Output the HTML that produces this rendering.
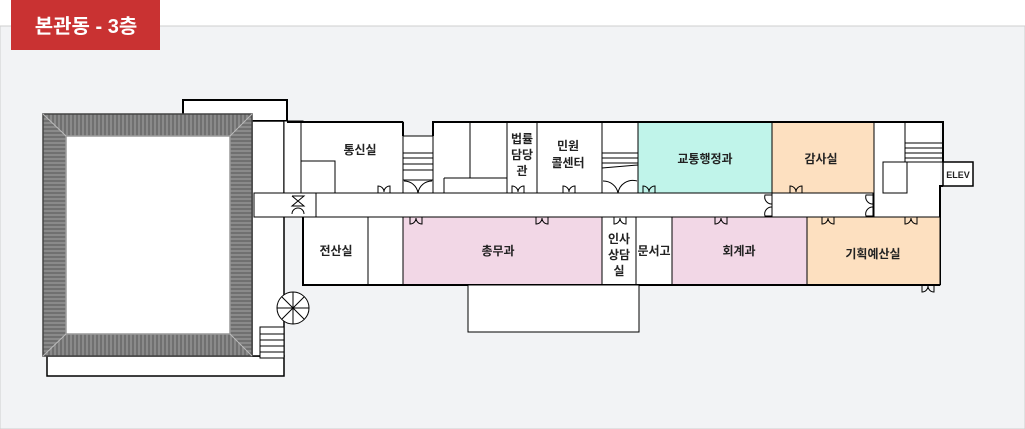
<!DOCTYPE html>
<html><head><meta charset="utf-8"><style>
html,body{margin:0;padding:0;background:#fff;}
svg{display:block;}
text{font-family:"Liberation Sans","Noto Sans CJK KR",sans-serif;font-size:12px;fill:#222;text-anchor:middle;font-weight:bold;}
</style></head><body>
<svg width="1025" height="429" viewBox="0 0 1025 429" xmlns="http://www.w3.org/2000/svg">
<defs>
<pattern id="h" width="4" height="4" patternUnits="userSpaceOnUse"><rect width="4" height="4" fill="#8a8a8a"/><line x1="1" y1="0" x2="1" y2="4" stroke="#555" stroke-width="1"/></pattern>
<pattern id="hv" width="4" height="4" patternUnits="userSpaceOnUse"><rect width="4" height="4" fill="#8a8a8a"/><line x1="0" y1="1" x2="4" y2="1" stroke="#555" stroke-width="1"/></pattern>
</defs>
<rect x="0" y="26" width="1025" height="403" fill="#f2f3f5" stroke="#cfcfcf"/>
<rect x="11" y="0" width="149" height="50" fill="#c93232"/>
<text x="86" y="33" style="font-size:20px;font-weight:bold;fill:#fff">본관동 - 3층</text>

<rect x="183" y="100" width="104" height="21" fill="#fff" stroke="#000" stroke-width="2"/>
<rect x="47" y="356" width="237" height="20" fill="#fff" stroke="#000" stroke-width="1.5"/>
<rect x="252" y="121" width="32" height="235" fill="#fff" stroke="#000" stroke-width="1.5"/>
<polygon points="43,114 252,114 230,136 66,136" fill="url(#h)"/>
<polygon points="43,356 252,356 230,334 66,334" fill="url(#h)"/>
<polygon points="43,114 66,136 66,334 43,356" fill="url(#hv)"/>
<polygon points="252,114 230,136 230,334 252,356" fill="url(#hv)"/>
<rect x="43" y="114" width="209" height="242" fill="none" stroke="#444" stroke-width="1.5"/>
<rect x="66" y="136" width="164" height="198" fill="#fff" stroke="#999" stroke-width="1.5"/>
<line x1="43" y1="114" x2="66" y2="136" stroke="#bbb"/><line x1="252" y1="114" x2="230" y2="136" stroke="#bbb"/>
<line x1="43" y1="356" x2="66" y2="334" stroke="#bbb"/><line x1="252" y1="356" x2="230" y2="334" stroke="#bbb"/>
<rect x="260" y="327" width="24" height="31" fill="#fff" stroke="#000"/>
<g stroke="#000"><line x1="260" y1="334" x2="284" y2="334"/><line x1="260" y1="340" x2="284" y2="340"/><line x1="260" y1="346" x2="284" y2="346"/><line x1="260" y1="352" x2="284" y2="352"/></g>

<rect x="284" y="121" width="19" height="72" fill="#fff" stroke="#000"/>
<rect x="301" y="122" width="102" height="71" fill="#fff" stroke="#000"/>
<line x1="287" y1="122" x2="403" y2="122" stroke="#000" stroke-width="2"/>
<rect x="301" y="161" width="34" height="32" fill="none" stroke="#000"/>
<rect x="403" y="136" width="30" height="57" fill="#fff" stroke="#000"/>
<g stroke="#000"><line x1="403" y1="153" x2="433" y2="153"/><line x1="403" y1="158" x2="433" y2="158"/><line x1="403" y1="164" x2="433" y2="164"/><line x1="403" y1="170" x2="433" y2="170"/><line x1="403" y1="180" x2="433" y2="180"/></g>
<line x1="403" y1="122" x2="403" y2="136" stroke="#000" stroke-width="2"/>
<rect x="433" y="122" width="104" height="71" fill="#fff" stroke="#000"/>
<line x1="470" y1="122" x2="470" y2="178" stroke="#000"/>
<line x1="507" y1="122" x2="507" y2="193" stroke="#000"/>
<line x1="444" y1="178" x2="507" y2="178" stroke="#000"/>
<line x1="444" y1="178" x2="444" y2="193" stroke="#000"/>
<rect x="537" y="122" width="65" height="71" fill="#fff" stroke="#000"/>
<rect x="602" y="122" width="36" height="71" fill="#fff" stroke="#000"/>
<g stroke="#000"><line x1="602" y1="153" x2="638" y2="153"/><line x1="602" y1="158" x2="638" y2="158"/><line x1="602" y1="163" x2="638" y2="163"/><line x1="602" y1="168" x2="638" y2="165"/></g>
<rect x="638" y="122" width="134" height="71" fill="#c0f4ea" stroke="#000"/>
<rect x="772" y="122" width="102" height="71" fill="#fde0c0" stroke="#000"/>
<rect x="874" y="122" width="66" height="95" fill="#fff" stroke="none"/>
<line x1="874" y1="122" x2="874" y2="217" stroke="#000"/>
<line x1="905" y1="122" x2="905" y2="162" stroke="#000"/>
<line x1="905" y1="162" x2="943" y2="162" stroke="#000"/>
<rect x="883" y="162" width="24" height="31" fill="#fff" stroke="#000"/>
<g stroke="#000"><line x1="905" y1="143" x2="943" y2="143"/><line x1="905" y1="148" x2="943" y2="148"/><line x1="905" y1="153" x2="943" y2="153"/><line x1="905" y1="158" x2="943" y2="158"/></g>
<rect x="943" y="162" width="30" height="24" fill="#fff" stroke="#000" stroke-width="1.5"/>
<text x="958" y="178" style="font-size:9px">ELEV</text>
<polyline points="433,136 433,122 943,122 943,162" fill="none" stroke="#000" stroke-width="2"/>
<rect x="254" y="193" width="619" height="24" fill="#fff" stroke="#000"/>
<line x1="873" y1="217" x2="940" y2="217" stroke="#000"/>
<line x1="316" y1="193" x2="316" y2="217" stroke="#000"/>
<line x1="772" y1="193" x2="772" y2="217" stroke="#000"/>
<polyline points="943,186 940,186 940,285" fill="none" stroke="#000" stroke-width="2"/>
<rect x="303" y="217" width="65" height="68" fill="#fff" stroke="#000"/>
<rect x="368" y="217" width="35" height="68" fill="#fff" stroke="#000"/>
<rect x="403" y="217" width="199" height="68" fill="#f2d7e6" stroke="#000"/>
<rect x="602" y="217" width="34" height="70" fill="#fff" stroke="#000"/>
<rect x="636" y="217" width="36" height="68" fill="#fff" stroke="#000"/>
<rect x="672" y="217" width="135" height="68" fill="#f2d7e6" stroke="#000"/>
<rect x="807" y="217" width="133" height="68" fill="#fde0c0" stroke="#000"/>
<polyline points="303,217 303,285 940,285" fill="none" stroke="#000" stroke-width="2"/>
<rect x="468" y="285" width="171" height="47" fill="#fff" stroke="#000"/>
<g stroke="#000" fill="#fff"><circle cx="293" cy="308" r="16"/>
<line x1="277" y1="308" x2="309" y2="308"/><line x1="293" y1="292" x2="293" y2="324"/><line x1="282" y1="297" x2="304" y2="319"/><line x1="304" y1="297" x2="282" y2="319"/></g>
<g fill="none" stroke="#000" stroke-width="1">
<path d="M378,193 v-7 a6,6 0 0 1 6,6 M390,193 v-7 a6,6 0 0 0 -6,6"/>
<path d="M404,181 a14,14 0 0 1 14,12 M432,181 a14,14 0 0 0 -14,12"/>
<path d="M603,181 a15,15 0 0 1 15,12 M637,181 a15,15 0 0 0 -19,12"/>
<path d="M512,193 v-7 a6,6 0 0 1 6,6 M524,193 v-7 a6,6 0 0 0 -6,6"/>
<path d="M563,193 v-7 a6,6 0 0 1 6,6 M575,193 v-7 a6,6 0 0 0 -6,6"/>
<path d="M643,193 v-7 a6,6 0 0 1 6,6 M655,193 v-7 a6,6 0 0 0 -6,6"/>
<path d="M790,193 v-7 a6,6 0 0 1 6,6 M802,193 v-7 a6,6 0 0 0 -6,6"/>
<path d="M410,217 v7 a6,6 0 0 0 6,-6 M422,217 v7 a6,6 0 0 1 -6,-6"/>
<path d="M536,217 v7 a6,6 0 0 0 6,-6 M548,217 v7 a6,6 0 0 1 -6,-6"/>
<path d="M614,217 v7 a6,6 0 0 0 6,-6 M626,217 v7 a6,6 0 0 1 -6,-6"/>
<path d="M715,217 v7 a6,6 0 0 0 6,-6 M727,217 v7 a6,6 0 0 1 -6,-6"/>
<path d="M822,217 v7 a6,6 0 0 0 6,-6 M834,217 v7 a6,6 0 0 1 -6,-6"/>
<path d="M905,217 v7 a6,6 0 0 0 6,-6 M917,217 v7 a6,6 0 0 1 -6,-6"/>
<path d="M922,285 v7 a6,6 0 0 0 6,-6 M934,285 v7 a6,6 0 0 1 -6,-6"/>
<path d="M772,195 h-7 a7,7 0 0 0 7,9 M772,216 h-7 a7,7 0 0 1 7,-9"/>
<path d="M873,195 h-7 a7,7 0 0 0 7,9 M873,216 h-7 a7,7 0 0 1 7,-9"/>
<path d="M292,196 h12 l-12,10 h12 l-12,-10 M292,214 a6,6 0 0 1 12,0"/>
</g>
<text x="360" y="154">통신실</text>
<text x="522" y="143">법률</text><text x="522" y="159">담당</text><text x="522" y="175">관</text>
<text x="568" y="150">민원</text><text x="568" y="167">콜센터</text>
<text x="705" y="163">교통행정과</text>
<text x="821" y="163">감사실</text>
<text x="336" y="255">전산실</text>
<text x="498" y="255">총무과</text>
<text x="619" y="243">인사</text><text x="619" y="259">상담</text><text x="619" y="275">실</text>
<text x="654" y="255">문서고</text>
<text x="739" y="255">회계과</text>
<text x="873" y="258">기획예산실</text>
</svg>
</body></html>
